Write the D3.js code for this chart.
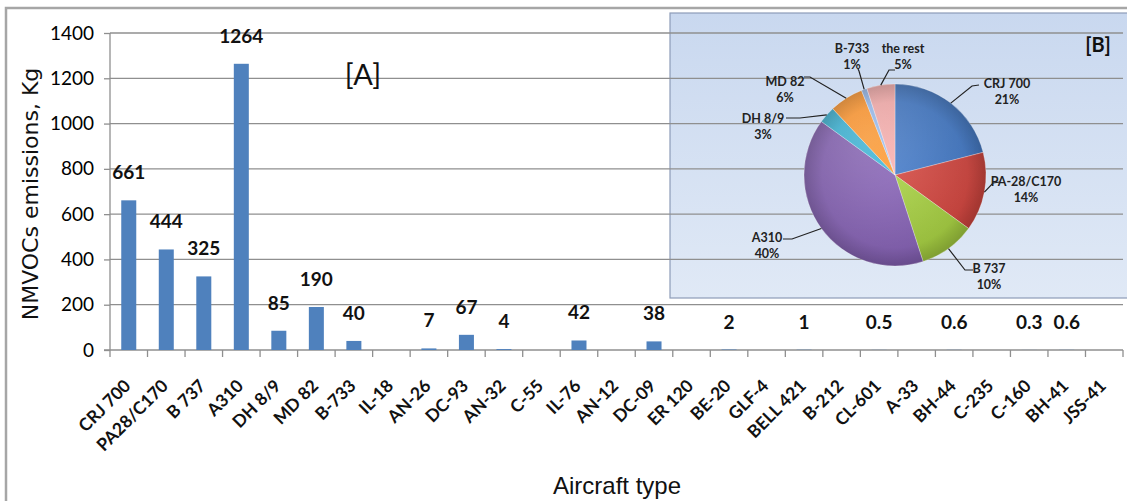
<!DOCTYPE html>
<html>
<head>
<meta charset="utf-8">
<script src="https://cdn.jsdelivr.net/npm/d3@7"></script>
<style>
  body { margin: 0; background: #fff; }
  svg { display: block; font-family: Lato, "Liberation Sans", sans-serif; }
</style>
</head>
<body>
<div id="chart"></div>
<script>
// Bar chart [A]: NMVOCs emissions per aircraft type (Kg)
const categories = [ 'CRJ 700', 'PA28/C170', 'B 737', 'A310', 'DH 8/9', 'MD 82', 'B-733', 'IL-18', 'AN-26',
  'DC-93', 'AN-32', 'C-55', 'IL-76', 'AN-12', 'DC-09', 'ER 120', 'BE-20', 'GLF-4', 'BELL 421', 'B-212',
  'CL-601', 'A-33', 'BH-44', 'C-235', 'C-160', 'BH-41', 'JSS-41' ];
const values = [ 661, 444, 325, 1264, 85, 190, 40, null, 7, 67, 4, null, 42, null, 38, null, 2, null, 1, null,
  0.5, null, 0.6, null, 0.3, 0.6, null ];
const yTicks = [ 0, 200, 400, 600, 800, 1000, 1200, 1400 ];

// Pie chart [B]: share of emissions
const pieLabels = [ 'CRJ 700', 'PA-28/C170', 'B 737', 'A310', 'DH 8/9', 'MD 82', 'B-733', 'the rest' ];
const piePercents = [ 21, 14, 10, 40, 3, 6, 1, 5 ];

const xAxisTitle = 'Aircraft type';
const yAxisTitle = 'NMVOCs emissions, Kg';

const figure_width = 1127;
const figure_height = 501;
const plot = { left: 110, right: 1123, top: 33, bottom: 350 };

const svg = d3.select( 'div#chart' )
  .append( 'svg' )
    .attr( 'width', figure_width )
    .attr( 'height', figure_height );

// outer frame
svg.append( 'rect' )
  .attr( 'x', 6 ).attr( 'y', 8 )
  .attr( 'width', 1130 ).attr( 'height', 520 )
  .attr( 'fill', 'none' )
  .attr( 'stroke', '#a6a6a6' )
  .attr( 'stroke-width', 2.5 );

var x = d3.scaleBand()
  .domain( categories )
  .range( [ plot.left, plot.right ] )
  .paddingInner( 0.6 )
  .paddingOuter( 0.3 );

var y = d3.scaleLinear()
  .domain( [ 0, 1400 ] )
  .range( [ plot.bottom, plot.top ] );

// pie panel background (gridlines show through it)
const defs = svg.append( 'defs' );
const bg = defs.append( 'linearGradient' ).attr( 'id', 'panelBg' )
  .attr( 'x1', 0 ).attr( 'y1', 0 ).attr( 'x2', 0 ).attr( 'y2', 1 );
bg.append( 'stop' ).attr( 'offset', '0%' ).attr( 'stop-color', '#c9d8ef' );
bg.append( 'stop' ).attr( 'offset', '100%' ).attr( 'stop-color', '#e0e9f6' );

svg.append( 'rect' )
  .attr( 'x', 670 ).attr( 'y', 13 )
  .attr( 'width', 470 ).attr( 'height', 285 )
  .attr( 'fill', 'url(#panelBg)' )
  .attr( 'stroke', '#8d9cb8' )
  .attr( 'stroke-width', 1.2 );

// gridlines
svg.append( 'g' )
  .selectAll( 'line' )
  .data( yTicks.slice( 1 ) )
  .enter().append( 'line' )
    .attr( 'x1', plot.left ).attr( 'x2', plot.right )
    .attr( 'y1', d => y( d ) ).attr( 'y2', d => y( d ) )
    .attr( 'stroke', '#8f8f8f' )
    .attr( 'stroke-width', 1.3 );

// Y axis
const yAxis = svg.append( 'g' )
  .attr( 'transform', 'translate(' + plot.left + ',0)' )
  .call( d3.axisLeft( y ).tickValues( yTicks ).tickFormat( d3.format( 'd' ) ).tickSize( 6 ).tickPadding( 10 ) );
yAxis.selectAll( 'path, line' ).attr( 'stroke', '#8f8f8f' ).attr( 'stroke-width', 1.3 );
yAxis.selectAll( 'text' )
  .attr( 'font-size', 19 )
  .attr( 'font-family', 'Lato, sans-serif' )
  .attr( 'fill', '#000' );
yAxis.select( '.domain' ).attr( 'd', 'M0,' + plot.bottom + 'V' + plot.top );

// X axis with ticks between bands
const xAxisG = svg.append( 'g' ).attr( 'transform', 'translate(0,' + plot.bottom + ')' );
xAxisG.append( 'line' )
  .attr( 'x1', plot.left - 6 ).attr( 'x2', plot.right )
  .attr( 'stroke', '#8f8f8f' ).attr( 'stroke-width', 1.3 );
const step = x.step();
xAxisG.selectAll( 'line.tick' )
  .data( d3.range( categories.length + 1 ) )
  .enter().append( 'line' )
    .attr( 'class', 'tick' )
    .attr( 'x1', i => plot.left + i * step ).attr( 'x2', i => plot.left + i * step )
    .attr( 'y1', 0 ).attr( 'y2', 7 )
    .attr( 'stroke', '#8f8f8f' ).attr( 'stroke-width', 1.3 );

xAxisG.selectAll( 'text' )
  .data( categories )
  .enter().append( 'text' )
    .attr( 'transform', d => 'translate(' + ( x( d ) + x.bandwidth() / 2 + 3 ) + ',' + 37 + ') rotate(-45)' )
    .attr( 'text-anchor', 'end' )
    .attr( 'font-size', 17.5 )
    .attr( 'font-weight', 'bold' )
    .attr( 'fill', '#111' )
    .text( d => d );

// bars
const barData = categories.map( ( c, i ) => ( { key: c, value: values[ i ] } ) );
svg.append( 'g' )
  .selectAll( 'rect' )
  .data( barData.filter( d => d.value !== null ) )
  .enter().append( 'rect' )
    .attr( 'x', d => x( d.key ) )
    .attr( 'y', d => y( d.value ) )
    .attr( 'width', x.bandwidth() )
    .attr( 'height', d => plot.bottom - y( d.value ) )
    .attr( 'fill', '#4f81bd' );

// value labels
svg.append( 'g' )
  .selectAll( 'text' )
  .data( barData.filter( d => d.value !== null ) )
  .enter().append( 'text' )
    .attr( 'x', d => x( d.key ) + x.bandwidth() / 2 )
    .attr( 'y', d => y( d.value ) - 21 )
    .attr( 'text-anchor', 'middle' )
    .attr( 'font-size', 19 )
    .attr( 'font-weight', 'bold' )
    .attr( 'fill', '#111' )
    .text( d => d.value );

// axis titles
svg.append( 'text' )
  .attr( 'x', 617 ).attr( 'y', 494 )
  .attr( 'text-anchor', 'middle' )
  .attr( 'font-size', 24 )
  .attr( 'font-family', '"Liberation Sans", sans-serif' )
  .attr( 'fill', '#111' )
  .text( xAxisTitle );

svg.append( 'text' )
  .attr( 'transform', 'translate(38,194) rotate(-90)' )
  .attr( 'text-anchor', 'middle' )
  .attr( 'font-size', 22 )
  .attr( 'font-family', '"DejaVu Sans", sans-serif' )
  .attr( 'fill', '#111' )
  .text( yAxisTitle );

svg.append( 'text' )
  .attr( 'x', 363 ).attr( 'y', 85 )
  .attr( 'text-anchor', 'middle' )
  .attr( 'font-size', 29 )
  .attr( 'fill', '#111' )
  .text( '[A]' );

svg.append( 'text' )
  .attr( 'x', 1098 ).attr( 'y', 52 )
  .attr( 'text-anchor', 'middle' )
  .attr( 'font-size', 20 )
  .attr( 'font-weight', 'bold' )
  .attr( 'fill', '#111' )
  .text( '[B]' );

// ---- Pie [B]
const pieColors = [ '#3d6fb6', '#c0403a', '#98bd3c', '#7b5aa6', '#36a8c8', '#f28e2b', '#8fb0e0', '#e7a1a0' ];
const cx = 895, cy = 175, radius = 91;

// label layout: text centre and leader-line knee/end (positions only)
const pieLabelPos = [
  { tx: 1007, ty: 88,  knee: [ 972, 86 ],  end: [ 979, 85 ] },
  { tx: 1026, ty: 186, knee: [ 993, 183 ], end: [ 1000, 182 ] },
  { tx: 989,  ty: 273, knee: [ 965, 270 ], end: [ 973, 270 ] },
  { tx: 767,  ty: 242, knee: [ 792, 239 ], end: [ 783, 239 ] },
  { tx: 763,  ty: 123, knee: [ 800, 118 ], end: [ 786, 118 ] },
  { tx: 785,  ty: 86,  knee: [ 810, 77 ],  end: [ 804, 77 ] },
  { tx: 852,  ty: 53,  knee: [ 859, 71 ],  end: [ 858, 69 ] },
  { tx: 903,  ty: 53,  knee: [ 889, 70 ],  end: [ 895, 70 ] }
];

const pie = d3.pie().sort( null ).value( d => d );
const arcs = pie( piePercents );
const arc = d3.arc().innerRadius( 0 ).outerRadius( radius );

pieColors.forEach( function( c, i ) {
  const g = defs.append( 'radialGradient' ).attr( 'id', 'slice' + i )
    .attr( 'gradientUnits', 'userSpaceOnUse' )
    .attr( 'cx', 0 ).attr( 'cy', 0 ).attr( 'r', radius );
  g.append( 'stop' ).attr( 'offset', '0%' ).attr( 'stop-color', d3.color( c ).brighter( 0.25 ) );
  g.append( 'stop' ).attr( 'offset', '80%' ).attr( 'stop-color', c );
  g.append( 'stop' ).attr( 'offset', '100%' ).attr( 'stop-color', d3.color( c ).darker( 0.5 ) );
} );

const pieG = svg.append( 'g' ).attr( 'transform', 'translate(' + cx + ',' + cy + ')' );
pieG.selectAll( 'path' )
  .data( arcs )
  .enter().append( 'path' )
    .attr( 'd', arc )
    .attr( 'fill', ( d, i ) => 'url(#slice' + i + ')' )
    .attr( 'stroke', 'rgba(255,255,255,0.35)' )
    .attr( 'stroke-width', 0.8 );

// highlight overlay for the glossy look
const hl = defs.append( 'radialGradient' ).attr( 'id', 'gloss' )
  .attr( 'cx', '35%' ).attr( 'cy', '30%' ).attr( 'r', '70%' );
hl.append( 'stop' ).attr( 'offset', '0%' ).attr( 'stop-color', '#fff' ).attr( 'stop-opacity', 0.18 );
hl.append( 'stop' ).attr( 'offset', '100%' ).attr( 'stop-color', '#fff' ).attr( 'stop-opacity', 0 );
pieG.append( 'circle' ).attr( 'r', radius ).attr( 'fill', 'url(#gloss)' );

// leader lines
const lineGen = d3.line();
svg.append( 'g' )
  .selectAll( 'path' )
  .data( arcs )
  .enter().append( 'path' )
    .attr( 'd', function( d, i ) {
      const a = ( d.startAngle + d.endAngle ) / 2;
      const start = [ cx + radius * Math.sin( a ), cy - radius * Math.cos( a ) ];
      const p = pieLabelPos[ i ];
      return lineGen( [ start, p.knee, p.end ] );
    } )
    .attr( 'fill', 'none' )
    .attr( 'stroke', '#222' )
    .attr( 'stroke-width', 1.2 );

const pieText = svg.append( 'g' )
  .selectAll( 'text' )
  .data( arcs )
  .enter().append( 'text' )
    .attr( 'text-anchor', 'middle' )
    .attr( 'font-size', 12.5 )
    .attr( 'font-weight', 'bold' )
    .attr( 'fill', '#222' );
pieText.append( 'tspan' )
  .attr( 'x', ( d, i ) => pieLabelPos[ i ].tx )
  .attr( 'y', ( d, i ) => pieLabelPos[ i ].ty )
  .text( ( d, i ) => pieLabels[ i ] );
pieText.append( 'tspan' )
  .attr( 'x', ( d, i ) => pieLabelPos[ i ].tx )
  .attr( 'dy', 16 )
  .text( ( d, i ) => piePercents[ i ] + '%' );
</script>
</body>
</html>
